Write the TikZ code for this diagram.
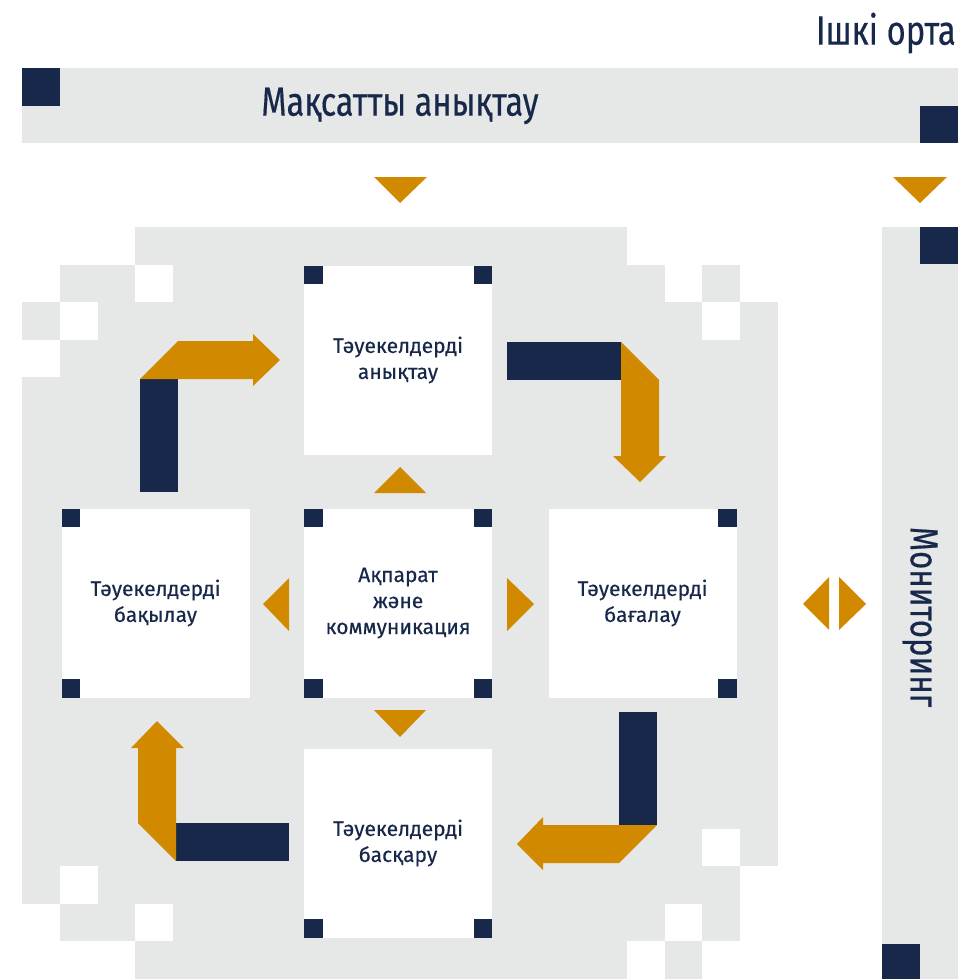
\documentclass[tikz,border=0pt]{standalone}
\usepackage{fontspec}
\setmainfont{Fira Sans}[FakeBold=0.3]
\newfontfamily\narrowfont{Fira Sans}[FakeStretch=0.8, FakeBold=0.4]
\usetikzlibrary{positioning}

\definecolor{navy}{HTML}{17284A}
\definecolor{amber}{HTML}{D18A00}
\definecolor{paper}{HTML}{E6E8E7}

\tikzset{
  stage/.style={fill=white, minimum width=188pt, minimum height=189pt, inner sep=0pt,
    align=center, text=navy, font=\fontsize{21}{26}\selectfont},
  tick/.style={fill=navy, minimum size=18.5pt, inner sep=0pt},
  headline/.style={text=navy, inner sep=0pt, font=\narrowfont\fontsize{#1}{#1}\selectfont},
  tip/.style={fill=amber},
  bar/.style={fill=navy}
}

\begin{document}
\begin{tikzpicture}[x=1pt, y=-1pt]
\useasboundingbox[fill=white] (0,0) rectangle (961,979);

% Background
\fill[paper] (22,68) rectangle (958,143);
\fill[paper] (882,227) rectangle (958,979);
\fill[paper] (22,227) rectangle (778,979);
\foreach \c/\r in {0/0,1/0,2/0,0/1,3/1,1/2,0/3,
                   16/0,17/0,18/0,19/0,17/1,19/1,18/2,
                   1/17,0/18,3/18,0/19,1/19,2/19,
                   18/16,19/17,17/18,19/18,16/19,18/19,19/19}
  \fill[white] ({22+37.8*\c},{227+37.6*\r}) rectangle ++(37.8,37.6);
\fill[bar] (22,68) rectangle (60,106);
\fill[bar] (920,106) rectangle (958,143);
\fill[bar] (920,227) rectangle (958,264);
\fill[bar] (882,944) rectangle (920,979);

% Titles
\node[headline=41, anchor=east] (inner) at (956,33) {Ішкі орта};
\node[headline=40.5] (goal) at (400,106) {Мақсатты анықтау};
\node[headline=39, rotate=-90] (watch) at (920,617) {Мониторинг};

% Stages
\node[stage] (identify) at (398,360) {Тәуекелдерді\\анықтау};
\node[stage] (inform) at (398,603) {Ақпарат\\және\\коммуникация};
\node[stage] (control) at (155.5,603) {Тәуекелдерді\\бақылау};
\node[stage] (assess) at (642.5,603) {Тәуекелдерді\\бағалау};
\node[stage] (manage) at (398,843) {Тәуекелдерді\\басқару};
\foreach \n/\a in {identify/north west, identify/north east,
                   inform/north west, inform/north east, inform/south west, inform/south east,
                   control/north west, control/south west,
                   assess/north east, assess/south east,
                   manage/south west, manage/south east}
  \node[tick, anchor=\a] at (\n.\a) {};

% Small arrows
\fill[tip] (374,177) -- (427,177) -- (400,203) -- cycle;
\fill[tip] (893,177) -- (947,177) -- (920,203) -- cycle;
\fill[tip] (374,493) -- (426,493) -- (400,467) -- cycle;
\fill[tip] (374,710) -- (426,710) -- (400,737) -- cycle;
\fill[tip] (289,578) -- (289,631) -- (263,604) -- cycle;
\fill[tip] (507,578) -- (507,631) -- (534,604) -- cycle;
\fill[tip] (829,577) -- (829,630) -- (803,604) -- cycle;
\fill[tip] (839,577) -- (839,630) -- (866,604) -- cycle;

% Cycle arrows
\fill[bar] (140,379) rectangle (178,492);
\fill[tip] (140,379) -- (178,341) -- (253,341) -- (253,334) -- (280,360)
  -- (253,386) -- (253,379) -- cycle;
\fill[bar] (507,342) rectangle (621,380);
\fill[tip] (621,342) -- (659,380) -- (659,456) -- (666,456) -- (640,482)
  -- (613,456) -- (621,456) -- cycle;
\fill[bar] (619,712) rectangle (657,825);
\fill[tip] (657,825) -- (619,863) -- (543,863) -- (543,870) -- (517,844)
  -- (543,817) -- (543,825) -- cycle;
\fill[bar] (176,823) rectangle (289,861);
\fill[tip] (176,861) -- (138,823) -- (138,748) -- (131,748) -- (157,721)
  -- (184,748) -- (176,748) -- cycle;
\end{tikzpicture}
\end{document}
